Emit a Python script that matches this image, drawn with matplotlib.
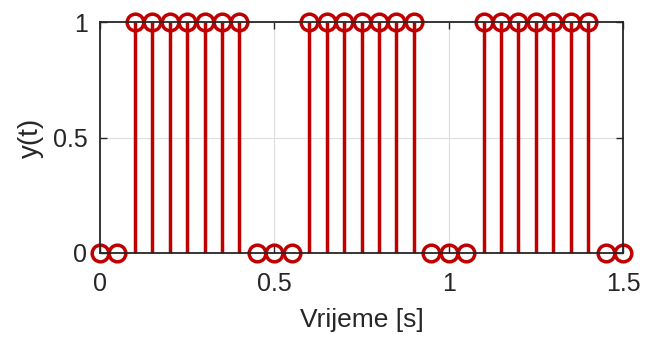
import matplotlib
matplotlib.use("Agg")
import matplotlib.pyplot as plt
import numpy as np

t = [round(0.05 * i, 2) for i in range(31)]
y = [0, 0, 1, 1, 1, 1, 1, 1, 1, 0, 0, 0, 1, 1, 1, 1, 1, 1, 1, 0, 0, 0, 1, 1, 1, 1, 1, 1, 1, 0, 0]
xticks = [0, 0.5, 1, 1.5]
xticklabels = ["0", "0.5", "1", "1.5"]
yticks = [0, 0.5, 1]
yticklabels = ["0", "0.5", "1"]

plt.rcParams['font.family'] = ['Liberation Sans', 'DejaVu Sans']
red = '#C00000'
txt = '#262626'

fig = plt.figure(figsize=(6.46, 3.37), dpi=100)
ax = fig.add_axes([100/646, 1 - 253/337, 523/646, 231/337])

ax.grid(True, color='#DFDFDF', linewidth=0.8)
ax.set_axisbelow(True)
ml, sl, bl = ax.stem(t, y, basefmt=' ')
plt.setp(sl, color=red, linewidth=2.5)
plt.setp(ml, markerfacecolor='none', markeredgecolor=red, markeredgewidth=2.5, markersize=12)
ml.set_clip_on(False)
sl.set_clip_on(False)

ax.set_xlim(0, 1.5)
ax.set_ylim(0, 1)
ax.set_xticks(xticks)
ax.set_xticklabels(xticklabels)
ax.set_yticks(yticks)
ax.set_yticklabels(yticklabels)
ax.tick_params(direction='in', length=5, width=1, colors=txt, labelsize=18, top=True, right=True)
ax.tick_params(axis='x', pad=14)
ax.tick_params(axis='y', pad=9)
for s in ax.spines.values():
    s.set_color(txt)
    s.set_linewidth(1.3)
ax.set_xlabel('Vrijeme [s]', fontsize=19, color=txt, labelpad=8)
ax.set_ylabel('y(t)', fontsize=20, color=txt, labelpad=6)

fig.savefig('out.png', dpi=100)
